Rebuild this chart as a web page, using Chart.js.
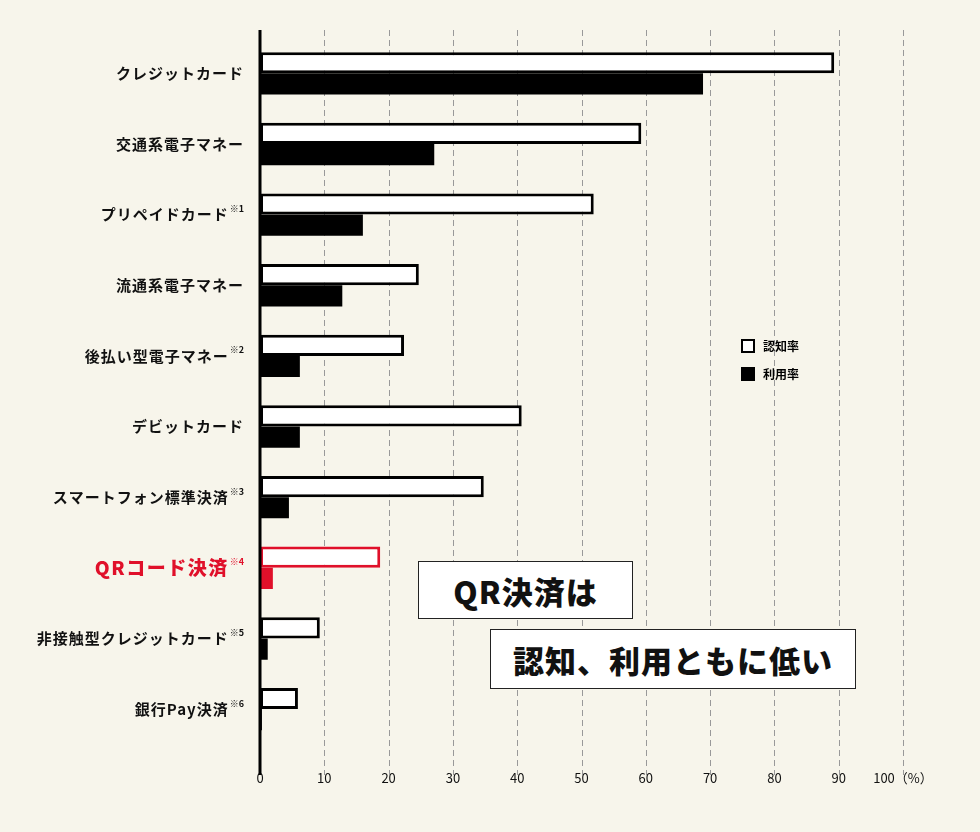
<!DOCTYPE html>
<html><head><meta charset="utf-8">
<script src="https://cdn.jsdelivr.net/npm/chart.js@4.4.1/dist/chart.umd.min.js"></script>
<style>
body{margin:0;background:#f7f5eb;font-family:"Noto Sans CJK JP",sans-serif;}
#wrap{position:relative;width:980px;height:832px;}
.box{position:absolute;background:#fff;border:1.5px solid #222;font-weight:900;font-size:31px;color:#111;display:flex;align-items:center;justify-content:center;box-sizing:border-box;letter-spacing:1px;}
.leg{position:absolute;font-size:12px;font-weight:700;display:flex;align-items:center;}
.leg i{display:inline-block;width:14px;height:14px;border:2px solid #000;margin-right:8px;box-sizing:border-box;}
</style></head><body>
<div id="wrap"><canvas id="c" width="980" height="832"></canvas>
<div class="leg" style="left:741px;top:337px"><i style="background:#fff"></i>認知率</div>
<div class="leg" style="left:741px;top:365px"><i style="background:#000"></i>利用率</div>
<div class="box" style="left:418px;top:561px;width:215px;height:58px">QR決済は</div>
<div class="box" style="left:490px;top:629px;width:366px;height:60px">認知、利用ともに低い</div>
</div>
<script>
const categories = ["クレジットカード","交通系電子マネー","プリペイドカード","流通系電子マネー","後払い型電子マネー","デビットカード","スマートフォン標準決済","QRコード決済","非接触型クレジットカード","銀行Pay決済"];
const notes = ["","","※1","","※2","","※3","※4","※5","※6"];
const awareness = [89.3,59.3,51.9,24.7,22.4,40.7,34.8,18.7,9.3,5.9];
const usage = [68.9,27.1,16.0,12.8,6.2,6.2,4.5,2.0,1.2,0.3];
const xTicks = [0,10,20,30,40,50,60,70,80,90,100];
const RED = "#e0102a";
const hi = categories.indexOf("QRコード決済");

const labelsPlugin = {
  id: "labels",
  beforeDatasetsDraw(chart) {
    const ctx = chart.ctx, x = chart.scales.x;
    ctx.save();
    ctx.strokeStyle = "#999"; ctx.lineWidth = 1; ctx.setLineDash([6, 4]);
    xTicks.slice(1).forEach(v => {
      const px = Math.round(x.getPixelForValue(v)) + 0.5;
      ctx.beginPath(); ctx.moveTo(px, 30); ctx.lineTo(px, 775); ctx.stroke();
    });
    ctx.restore();
  },
  afterDatasetsDraw(chart) {
    const ctx = chart.ctx, x = chart.scales.x, y = chart.scales.y;
    const x0 = x.getPixelForValue(0);
    ctx.save();
    ctx.strokeStyle = "#000"; ctx.lineWidth = 3;
    ctx.beginPath(); ctx.moveTo(x0, 30); ctx.lineTo(x0, 775); ctx.stroke();
    categories.forEach((c, i) => {
      const cy = y.getPixelForValue(i);
      const isHi = i === hi;
      ctx.fillStyle = isHi ? RED : "#111";
      ctx.textBaseline = "middle"; ctx.textAlign = "right";
      let right = 244;
      if (notes[i]) {
        ctx.letterSpacing = "0px";
        ctx.font = "700 9px 'Noto Sans CJK JP'";
        ctx.fillText(notes[i], right, cy - 6);
        right -= ctx.measureText(notes[i]).width + 1;
      }
      ctx.letterSpacing = isHi ? "1.5px" : "1px";
      ctx.font = isHi ? "900 19px 'Noto Sans CJK JP'" : "700 15px 'Noto Sans CJK JP'";
      ctx.fillText(c, right, cy);
    });
    ctx.restore();
  }
};

new Chart(document.getElementById("c"), {
  type: "bar",
  data: {
    labels: categories,
    datasets: [
      { label: "認知率", data: awareness, backgroundColor: "#fff",
        borderColor: categories.map((c, i) => i === hi ? RED : "#000"),
        borderWidth: 3, borderSkipped: false },
      { label: "利用率", data: usage,
        backgroundColor: categories.map((c, i) => i === hi ? RED : "#000"), borderWidth: 0 }
    ]
  },
  options: {
    indexAxis: "y", responsive: false, animation: false,
    categoryPercentage: 0.6, barPercentage: 1,
    layout: { padding: { left: 260, right: 77, top: 38, bottom: 20 } },
    plugins: { legend: { display: false }, tooltip: { enabled: false } },
    scales: {
      y: { display: false },
      x: {
        min: 0, max: 100, afterBuildTicks: s => { s.ticks = xTicks.map(v => ({ value: v })); },
        grid: { display: false, drawTicks: false },
        border: { display: false },
        ticks: { padding: 26, maxRotation: 0, minRotation: 0, color: "#111",
          font: { size: 13, family: "Noto Sans CJK JP" },
          callback: v => v === 100 ? "100（%）" : v }
      }
    }
  },
  plugins: [labelsPlugin]
});
</script>
</body></html>
